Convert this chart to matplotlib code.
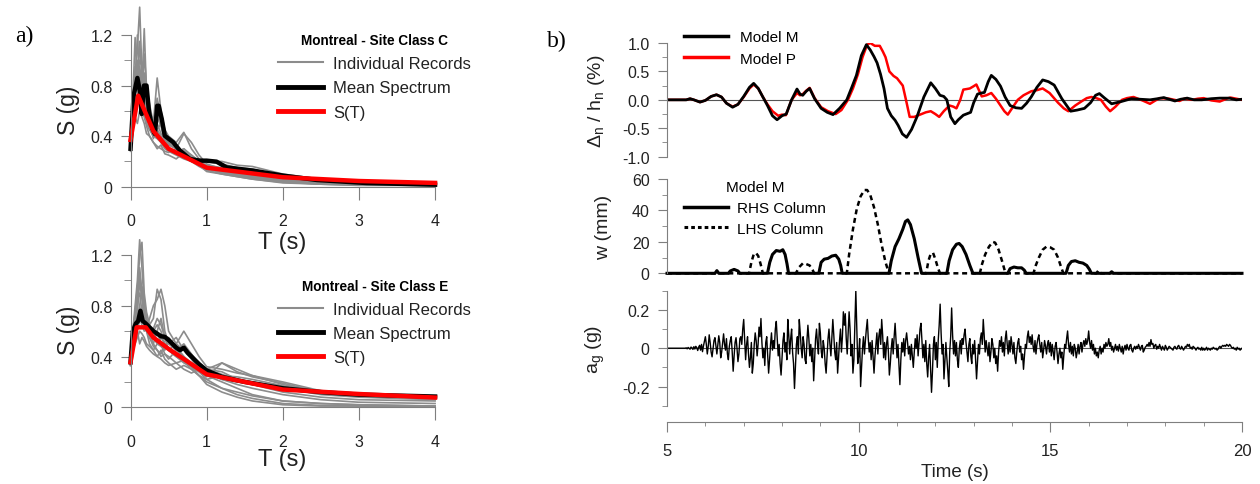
import numpy as np
import matplotlib
matplotlib.use('Agg')
import matplotlib.pyplot as plt
from matplotlib.lines import Line2D

plt.rcParams['font.family'] = 'Liberation Sans'
plt.rcParams['axes.unicode_minus'] = False

# ---- a) response spectra ----
T_grid = [0, 0.03, 0.06, 0.09, 0.12, 0.15, 0.18, 0.21, 0.25, 0.3, 0.35, 0.4, 0.45, 0.5,
          0.6, 0.7, 0.8, 0.9, 1.0, 1.2, 1.4, 1.6, 2.0, 2.5, 3.0, 4.0]

records_c = [
    [.32, .6, .9, 1.1, 1.42, .9, .8, .7, .55, .45, .5, .42, .38, .33, .3, .28, .25, .2, .16, .12, .1, .08, .05, .03, .02, .01],
    [.3, .7, 1.18, .85, .95, .8, 1.25, .75, .6, .5, .7, .55, .4, .35, .3, .25, .2, .18, .15, .11, .09, .07, .04, .02, .015, .01],
    [.28, .55, .8, 1.0, .75, .65, .6, .5, .45, .5, .86, .6, .45, .4, .35, .43, .3, .22, .2, .18, .15, .12, .07, .04, .03, .015],
    [.3, .5, .7, .65, .8, .6, .55, .48, .4, .35, .32, .3, .28, .27, .3, .42, .35, .25, .18, .14, .15, .14, .08, .05, .03, .02],
    [.33, .6, .85, .95, .7, .75, .65, .58, .5, .4, .45, .35, .3, .28, .25, .22, .2, .17, .12, .1, .08, .06, .035, .02, .015, .01],
    [.29, .45, .55, .5, .6, .55, .5, .42, .4, .35, .3, .33, .26, .25, .22, .27, .2, .16, .13, .1, .08, .06, .03, .02, .01, .01],
    [.31, .5, .65, .72, .9, .7, .75, .6, .5, .38, .6, .5, .4, .3, .28, .24, .2, .18, .2, .2, .17, .16, .1, .06, .04, .02],
    [.3, .65, .75, 1.2, .85, .7, 1.05, .8, .65, .5, .45, .4, .35, .3, .26, .3, .25, .2, .16, .13, .11, .09, .05, .03, .02, .01],
    [.31, .55, .95, .8, 1.15, .85, .7, .65, .5, .42, .55, .48, .35, .3, .27, .3, .24, .19, .15, .12, .1, .08, .045, .025, .015, .01],
    [.29, .5, .6, .7, .65, .85, .6, .55, .45, .4, .38, .35, .33, .3, .28, .26, .22, .2, .17, .15, .13, .11, .07, .04, .03, .02],
    [.3, .58, .72, .9, 1.0, .95, .85, .7, .55, .48, .42, .36, .32, .29, .26, .24, .22, .18, .14, .11, .09, .07, .04, .025, .02, .01],
    [.32, .62, .8, .75, .7, .65, .9, .7, .6, .5, .45, .5, .38, .34, .3, .28, .23, .2, .16, .13, .12, .1, .06, .035, .025, .015],
]
T_mean_c = [0, 0.04, 0.09, 0.125, 0.147, 0.177, 0.21, 0.243, 0.29, 0.32, 0.35, 0.37, 0.41, 0.45,
            0.56, 0.65, 0.78, 0.91, 1.0, 1.13, 1.26, 1.61, 2.01, 2.45, 3.1, 4.0]
S_mean_c = [0.30, 0.72, 0.86, 0.75, 0.575, 0.80, 0.80, 0.59, 0.456, 0.417, 0.64, 0.64, 0.536, 0.403,
            0.351, 0.285, 0.219, 0.206, 0.206, 0.198, 0.153, 0.127, 0.087, 0.053, 0.029, 0.016]
T_st_c = [0, 0.1, 0.2, 0.3, 0.5, 1.0, 2.0, 3.0, 4.0]
S_st_c = [0.37, 0.72, 0.58, 0.44, 0.30, 0.15, 0.075, 0.045, 0.03]

records_e = [
    [.35, .6, .8, 1.0, 1.32, 1.1, .8, .7, .6, .5, .45, .42, .5, .45, .4, .35, .32, .28, .22, .15, .1, .07, .03, .015, .01, .005],
    [.33, .55, .7, .9, 1.2, 1.3, .9, .75, .65, .7, .93, .85, .6, .5, .45, .4, .35, .3, .25, .2, .15, .1, .05, .03, .02, .01],
    [.36, .5, .6, .65, .7, .65, .6, .62, .7, .8, .85, .93, .8, .6, .5, .45, .38, .3, .3, .35, .28, .24, .19, .12, .09, .07],
    [.34, .45, .5, .55, .6, .58, .55, .5, .48, .45, .5, .55, .5, .45, .5, .6, .5, .4, .32, .3, .27, .25, .2, .13, .1, .08],
    [.35, .5, .55, .6, .5, .55, .52, .48, .45, .42, .4, .38, .35, .33, .35, .37, .33, .28, .24, .35, .3, .25, .18, .12, .1, .08],
    [.33, .6, .7, .85, .9, .75, .65, .6, .62, .55, .5, .48, .45, .55, .48, .4, .32, .25, .18, .12, .08, .05, .02, .01, .01, .005],
    [.37, .55, .65, .7, .8, .95, .85, .7, .6, .55, .6, .5, .42, .4, .35, .3, .27, .3, .28, .22, .2, .19, .15, .1, .08, .06],
    [.34, .5, .6, .75, 1.0, .85, .7, .6, .5, .45, .4, .45, .38, .35, .3, .33, .3, .25, .22, .25, .24, .22, .17, .11, .09, .07],
    [.34, .55, .7, .8, 1.05, .9, .75, .65, .55, .5, .6, .7, .55, .45, .4, .38, .34, .3, .27, .22, .18, .15, .1, .06, .04, .03],
    [.36, .5, .58, .62, .68, .72, .65, .6, .58, .62, .7, .65, .55, .5, .55, .45, .4, .35, .3, .28, .22, .18, .12, .08, .06, .05],
    [.35, .6, .75, .95, 1.1, .9, .8, .65, .55, .48, .45, .4, .42, .38, .45, .5, .42, .34, .3, .26, .22, .2, .16, .11, .09, .07],
    [.33, .52, .62, .7, .75, .8, .7, .6, .55, .6, .65, .6, .5, .45, .4, .36, .3, .25, .2, .15, .12, .09, .05, .03, .02, .01],
]
T_mean_e = [0, .03, .07, .1, .13, .16, .2, .25, .3, .35, .4, .45, .5, .55, .6, .65, .7, .75, .8, .9,
            1.0, 1.2, 1.5, 2.0, 2.5, 3.0, 4.0]
S_mean_e = [.355, .6, .66, .68, .76, .68, .66, .63, .6, .58, .56, .555, .53, .5, .47, .45, .47, .43, .4, .34,
            .29, .24, .2, .15, .12, .1, .085]
T_st_e = [0, 0.08, 0.2, 0.3, 0.5, 1.0, 2.0, 3.0, 4.0]
S_st_e = [0.355, 0.63, 0.63, 0.55, 0.46, 0.26, 0.14, 0.105, 0.077]

# ---- b) time histories ----
t_m = [5.0, 5.5, 5.6, 5.7, 5.86, 6.0, 6.15, 6.29, 6.42, 6.55, 6.71, 6.85, 7.0, 7.15, 7.26, 7.38, 7.5,
       7.62, 7.75, 7.87, 8.0, 8.11, 8.25, 8.39, 8.47, 8.54, 8.63, 8.72, 8.85, 9.02, 9.18, 9.33, 9.5,
       9.69, 9.82, 9.94, 10.07, 10.2, 10.3, 10.4, 10.48, 10.57, 10.66, 10.75, 10.85, 10.95, 11.03,
       11.14, 11.25, 11.38, 11.52, 11.7, 11.88, 12.0, 12.12, 12.22, 12.3, 12.4, 12.51, 12.6, 12.73,
       12.92, 13.0, 13.1, 13.2, 13.28, 13.38, 13.46, 13.58, 13.7, 13.82, 13.95, 14.1, 14.25, 14.38,
       14.5, 14.65, 14.8, 14.95, 15.1, 15.3, 15.53, 15.7, 15.89, 16.05, 16.18, 16.28, 16.4, 16.6,
       16.85, 17.11, 17.35, 17.6, 17.8, 17.96, 18.1, 18.25, 18.4, 18.57, 18.75, 18.95, 19.2, 19.42,
       19.67, 19.85, 20.0]
drift_m = [0, 0, 0.02, 0.0, -0.04, -0.01, 0.06, 0.09, 0.05, -0.06, -0.13, -0.08, 0.06, 0.22, 0.29, 0.2, 0.05,
           -0.1, -0.28, -0.35, -0.28, -0.25, 0.0, 0.19, 0.1, 0.08, 0.15, 0.2, 0.02, -0.15, -0.22, -0.26, -0.15,
           0.0, 0.22, 0.43, 0.78, 0.97, 0.88, 0.76, 0.65, 0.45, 0.2, -0.15, -0.28, -0.36, -0.45,
           -0.6, -0.66, -0.52, -0.3, 0.05, 0.3, 0.2, 0.08, 0.06, 0.0, -0.3, -0.42, -0.35, -0.27,
           -0.22, -0.05, 0.1, 0.12, 0.13, 0.32, 0.43, 0.36, 0.24, 0.05, -0.1, -0.14, -0.15, -0.06,
           0.05, 0.22, 0.35, 0.32, 0.26, 0.02, -0.2, -0.18, -0.15, -0.05, 0.08, 0.11, 0.04, -0.07,
           -0.03, 0.02, 0.01, 0.0, 0.02, 0.04, 0.01, -0.02, 0.01, 0.03, 0.0, 0.0, 0.02, 0.03,
           0.03, 0.0, 0.01]
t_p = [5.0, 5.5, 5.6, 5.7, 5.86, 6.0, 6.15, 6.29, 6.42, 6.55, 6.71, 6.85, 7.0, 7.15, 7.26, 7.38, 7.5,
       7.62, 7.75, 7.9, 8.0, 8.1, 8.25, 8.39, 8.47, 8.54, 8.63, 8.72, 8.85, 9.02, 9.2, 9.4, 9.55,
       9.72, 9.85, 9.98, 10.1, 10.22, 10.3, 10.42, 10.55, 10.63, 10.7, 10.8, 10.91, 11.0, 11.15,
       11.25, 11.33, 11.45, 11.64, 11.75, 11.88, 12.0, 12.1, 12.22, 12.37, 12.47, 12.55, 12.65, 12.73,
       12.82, 12.9, 13.0, 13.07, 13.15, 13.21, 13.33, 13.46, 13.58, 13.7, 13.8, 13.89, 14.0, 14.15,
       14.3, 14.5, 14.65, 14.8, 14.98, 15.2, 15.35, 15.47, 15.65, 15.83, 15.95, 16.07, 16.2, 16.32,
       16.45, 16.56, 16.7, 16.87, 17.0, 17.17, 17.4, 17.6, 17.72, 17.85, 18.1, 18.37, 18.5, 18.7,
       18.85, 19.0, 19.2, 19.42, 19.6, 19.7, 19.85, 20.0]
drift_p = [0, 0, 0.02, 0.0, -0.04, -0.01, 0.06, 0.09, 0.05, -0.06, -0.12, -0.08, 0.05, 0.2, 0.27, 0.2, 0.05,
           -0.08, -0.2, -0.28, -0.26, -0.27, 0.0, 0.12, 0.08, 0.1, 0.16, 0.21, 0.03, -0.13, -0.2, -0.25, -0.18,
           0.0, 0.2, 0.45, 0.75, 0.97, 1.0, 0.95, 0.95, 0.85, 0.75, 0.5, 0.42, 0.38, 0.25,
           -0.05, -0.3, -0.3, -0.25, -0.22, -0.2, -0.25, -0.3, -0.2, -0.1, -0.12, -0.15, 0.0, 0.18,
           0.19, 0.2, 0.24, 0.27, 0.15, 0.06, 0.08, 0.12, 0.02, -0.1, -0.2, -0.26, -0.15, 0.0,
           0.08, 0.15, 0.17, 0.2, 0.12, -0.05, -0.15, -0.2, -0.1, -0.02, 0.03, 0.05, 0.03, 0.0,
           -0.12, -0.2, -0.12, 0.0, 0.03, 0.05, -0.01, -0.07, -0.02, 0.03, 0.02, -0.02, 0.02, 0.0,
           0.02, 0.03, -0.01, -0.03, 0.02, 0.04, 0.02, 0.0]

t_rhs = [5, 6.25, 6.3, 6.35, 6.6, 6.65, 6.75, 6.85, 6.9,
         7.62, 7.68, 7.75, 7.85, 7.95, 8.02, 8.08, 8.13, 8.17,
         8.96, 9.02, 9.1, 9.2, 9.3, 9.4, 9.48, 9.53, 9.57,
         10.79, 10.85, 10.95, 11.05, 11.15, 11.22, 11.28, 11.35, 11.45, 11.55, 11.64,
         12.3, 12.36, 12.45, 12.55, 12.62, 12.7, 12.8, 12.9, 12.98,
         13.89, 13.95, 14.05, 14.15, 14.25, 14.32, 14.37,
         15.41, 15.47, 15.55, 15.65, 15.75, 15.85, 15.95, 16.02, 16.07,
         16.55, 16.6, 16.65, 20]
w_rhs = [0, 0, 1.7, 0, 0, 1.5, 2.5, 1.5, 0,
         0, 7, 12, 14.5, 14, 15, 12, 6, 0,
         0, 7, 9, 9.5, 11, 11.5, 9, 5, 0,
         0, 8, 17, 22, 28, 33, 34, 31, 22, 10, 0,
         0, 8, 15, 18.5, 19, 17, 12, 5, 0,
         0, 3, 4, 3.5, 3.5, 2, 0,
         0, 5, 7.5, 8, 7, 6.5, 5, 2.5, 0,
         0, 1, 0, 0]
t_lhs = [5, 7.14, 7.2, 7.26, 7.32, 7.38, 7.44, 7.5,
         8.36, 8.45, 8.55, 8.62, 8.72, 8.8, 8.84,
         9.69, 9.75, 9.85, 9.95, 10.05, 10.15, 10.22, 10.3, 10.4, 10.5, 10.6, 10.7, 10.79,
         11.76, 11.82, 11.88, 11.94, 12.0, 12.06, 12.12,
         13.16, 13.22, 13.3, 13.4, 13.5, 13.56, 13.65, 13.75, 13.83,
         14.56, 14.62, 14.7, 14.8, 14.9, 15.0, 15.1, 15.2, 15.28, 15.34,
         16.2, 16.26, 16.32, 20]
w_lhs = [0, 0, 7, 12, 13, 11, 6, 0,
         0, 4, 6.5, 6, 5, 2, 0,
         0, 12, 28, 41, 49, 53, 53, 50, 42, 31, 18, 7, 0,
         0, 8, 12.5, 13, 9, 4, 0,
         0, 6, 12, 17, 20, 19.5, 15, 7, 0,
         0, 5, 10, 15, 17, 16.5, 15, 10, 4, 0,
         0, 2, 0, 0]

# ground acceleration, one row per half second, 0.025 s apart
ag_start, ag_dt = 5.0, 0.025
ag = [
    0, 0, 0, 0, 0, 0, 0, 0, 0, 0, 0, 0, 0, 0, 0, 0, 0, 0, 0, 0,
    0.002, -0.003, 0.004, 0.0, -0.005, 0.006, 0.002, -0.006, 0.008, -0.004, 0.01, 0.003, -0.012, 0.006, 0.015, -0.01, 0.02, -0.018, 0.012, 0.035,
    0.06, 0.02, -0.03, 0.01, 0.07, 0.03, -0.02, -0.045, 0.0, 0.04, 0.055, 0.01, -0.03, 0.02, 0.065, 0.03, -0.05, -0.02, 0.03, 0.075,
    0.02, -0.01, 0.05, -0.03, -0.06, 0.01, 0.04, 0.06, -0.02, -0.12, -0.04, 0.03, 0.055, 0.0, -0.07, -0.03, 0.05, 0.06, 0.02, 0.1,
    0.15, 0.04, -0.06, 0.02, 0.06, -0.03, -0.1, -0.05, 0.03, -0.13, -0.08, 0.02, 0.08, 0.04, -0.04, 0.02, 0.11, 0.06, 0.155, 0.03,
    -0.05, 0.0, -0.09, 0.03, 0.06, -0.04, -0.13, -0.06, 0.02, 0.08, -0.01, 0.04, 0.0, 0.1, 0.14, 0.05, -0.04, 0.02, -0.08, -0.14,
    -0.05, 0.04, 0.08, -0.02, 0.03, -0.06, 0.15, 0.07, -0.03, 0.05, 0.1, -0.02, -0.08, -0.21, -0.1, 0.02, 0.06, -0.03, 0.15, 0.08,
    0.0, -0.05, 0.06, 0.02, -0.06, -0.08, 0.04, 0.12, 0.05, -0.04, 0.02, -0.07, 0.0, -0.17, -0.06, 0.05, 0.1, 0.02, -0.03, 0.13,
    0.08, -0.02, -0.05, 0.04, 0.0, -0.08, -0.13, -0.04, 0.05, 0.1, 0.02, -0.04, 0.06, 0.15, 0.07, -0.02, -0.06, 0.03, -0.13, -0.05,
    0.04, 0.1, -0.02, 0.06, 0.19, 0.12, 0.18, 0.05, -0.03, 0.08, 0.19, 0.1, -0.04, 0.02, -0.13, -0.06, 0.12, 0.3, 0.1, -0.08,
    -0.04, 0.05, -0.2, -0.1, 0.0, 0.06, -0.03, 0.04, 0.1, 0.15, 0.05, -0.02, 0.03, -0.06, 0.04, -0.05, -0.13, -0.04, 0.02, 0.08,
    -0.03, 0.06, 0.1, 0.02, 0.15, 0.07, -0.05, 0.03, -0.06, 0.02, 0.06, -0.02, -0.14, -0.08, 0.0, 0.05, -0.03, 0.06, 0.13, 0.04,
    -0.05, 0.02, -0.08, -0.19, -0.06, 0.03, -0.02, 0.05, -0.04, 0.04, 0.08, 0.03, -0.03, 0.01, -0.06, 0.02, -0.04, -0.1, -0.02, 0.05,
    0.0, 0.07, -0.04, 0.03, 0.1, 0.13, 0.04, -0.05, 0.02, -0.07, 0.04, -0.08, -0.15, -0.05, 0.02, -0.1, -0.23, -0.12, 0.02, 0.06,
    -0.06, 0.03, -0.1, 0.04, 0.12, 0.23, 0.08, -0.03, 0.02, -0.16, -0.06, 0.03, -0.05, -0.12, -0.2, -0.02, 0.06, 0.21, 0.07, -0.03,
    0.04, -0.04, 0.03, -0.06, -0.1, 0.0, 0.04, -0.03, 0.05, 0.02, 0.07, 0.1, 0.03, -0.02, -0.07, 0.02, 0.05, -0.04, -0.08, 0.02,
    -0.03, 0.04, -0.06, -0.16, -0.07, 0.02, -0.03, 0.05, 0.08, 0.02, 0.15, 0.06, -0.02, 0.04, 0.0, -0.04, 0.03, -0.07, -0.02, 0.05,
    0.02, -0.05, 0.0, -0.08, -0.04, -0.12, -0.02, 0.04, 0.01, 0.06, -0.02, 0.03, -0.04, 0.05, 0.09, 0.02, -0.03, 0.04, -0.02, 0.06,
    0.02, -0.03, 0.03, -0.05, -0.08, -0.02, 0.03, 0.05, -0.02, 0.01, -0.06, -0.03, -0.11, -0.04, 0.02, 0.0, 0.06, 0.09, 0.03, 0.06,
    0.02, 0.07, 0.01, -0.02, 0.04, -0.03, 0.02, 0.05, 0.07, 0.02, -0.02, 0.03, -0.05, -0.01, 0.04, 0.01, -0.03, 0.02, 0.04, -0.02,
    0.03, -0.04, 0.02, -0.02, -0.06, 0.01, 0.03, -0.02, -0.08, -0.03, 0.0, -0.05, -0.02, -0.11, -0.04, 0.02, 0.0, 0.05, 0.09, 0.02,
    -0.02, 0.03, -0.03, 0.01, -0.04, 0.02, 0.0, -0.05, -0.02, 0.02, -0.03, 0.01, 0.03, -0.02, 0.02, 0.04, 0.01, 0.05, 0.02, 0.04,
    0.09, 0.03, 0.0, 0.04, -0.01, 0.02, -0.03, 0.0, -0.04, -0.02, -0.05, -0.01, 0.01, -0.03, 0.0, -0.02, 0.02, 0.0, 0.03, 0.01,
    0.02, 0.05, 0.01, 0.03, -0.01, 0.01, -0.02, 0.0, 0.02, -0.01, 0.01, -0.015, 0.02, 0.0, -0.02, 0.01, -0.03, 0.0, 0.015, -0.01,
    0.02, 0.0, -0.01, 0.015, 0.02, -0.01, -0.02, 0.0, 0.01, -0.005, 0.01, 0.0, 0.02, 0.005, -0.01, 0.01, 0.015, -0.02, -0.01, 0.005,
    0.01, 0.02, 0.01, 0.03, 0.01, 0.045, 0.02, 0.025, 0.0, 0.015, 0.02, -0.005, 0.01, 0.0, 0.02, 0.005, -0.01, 0.01, 0.0, -0.01,
    0.015, 0.005, -0.01, 0.0, 0.01, 0.005, 0.0, -0.005, -0.01, 0.005, 0.01, 0.0, -0.005, 0.01, 0.015, 0.0, -0.005, 0.01, 0.0, -0.01,
    0.0, 0.01, 0.005, 0.02, 0.01, 0.02, 0.0, 0.005, -0.005, 0.01, 0.005, 0.0, -0.01, 0.0, 0.005, -0.005, 0.0, -0.01, 0.005, -0.01,
    0.0, -0.01, -0.005, 0.005, -0.01, 0.0, -0.005, -0.01, 0.0, -0.005, 0.005, 0.0, -0.005, 0.0, -0.01, -0.005, 0.005, 0.01, 0.0, 0.01,
    0.015, 0.01, 0.015, 0.01, 0.02, 0.015, 0.01, 0.02, 0.015, 0.005, 0.0, 0.005, -0.005, 0.0, -0.01, 0.005, -0.005, 0.0, -0.01, -0.005,
    0.0]
t_ag = ag_start + ag_dt * np.arange(len(ag))

GRAY = '#8c8c8c'
SPINE = '#7f7f7f'

fig = plt.figure(figsize=(12.6, 4.85), dpi=100)


def spectrum_panel(ax, records, T_mean, S_mean, T_st, S_st, title, leg_y):
    for rec in records:
        ax.plot(T_grid, rec, color=GRAY, lw=1.2, clip_on=False)
    ax.plot(T_mean, S_mean, color='black', lw=3.2, clip_on=False)
    ax.plot(T_st, S_st, color='red', lw=3.2, clip_on=False)
    ax.set_xlim(0, 4)
    ax.set_ylim(0, 1.2)
    ax.set_xticks([0, 1, 2, 3, 4])
    ax.set_yticks([0, 0.4, 0.8, 1.2])
    ax.set_yticklabels(['0', '0.4', '0.8', '1.2'])
    ax.set_yticks([0.2, 0.6, 1.0], minor=True)
    for s in ['top', 'right']:
        ax.spines[s].set_visible(False)
    for s in ['left', 'bottom']:
        ax.spines[s].set_color(SPINE)
    ax.tick_params(axis='y', which='major', direction='out', length=7, pad=6,
                   color=SPINE, labelsize=11.5, labelcolor='#222222')
    ax.tick_params(axis='y', which='minor', direction='out', length=5, color=SPINE)
    ax.tick_params(axis='x', which='major', direction='out', length=9, pad=10,
                   color=SPINE, labelsize=11.5, labelcolor='#222222')
    ax.set_ylabel('S (g)', fontsize=16.5, color='#222222')
    ax.set_xlabel('T (s)', fontsize=17, color='#222222')
    ax.yaxis.set_label_coords(-0.166, 0.51)
    handles = [Line2D([], [], color=GRAY, lw=1.5),
               Line2D([], [], color='black', lw=3.5),
               Line2D([], [], color='red', lw=3.5)]
    leg = ax.legend(handles, ['Individual Records', 'Mean Spectrum', 'S(T)'],
                    title=title, loc='upper left', bbox_to_anchor=(0.485, leg_y),
                    frameon=False, fontsize=12, handlelength=2.7, handletextpad=0.6,
                    labelspacing=0.55, borderpad=0, borderaxespad=0,
                    title_fontproperties={'weight': 'bold', 'size': 9.8})
    for txt in leg.get_texts():
        txt.set_color('#222222')


ax1 = fig.add_axes([0.1036, 0.6130, 0.2417, 0.3128])
spectrum_panel(ax1, records_c, T_mean_c, S_mean_c, T_st_c, S_st_c,
               'Montreal - Site Class C', 1.012)
ax1.xaxis.set_label_coords(0.497, -0.29)

ax2 = fig.add_axes([0.1036, 0.1581, 0.2417, 0.3141])
spectrum_panel(ax2, records_e, T_mean_e, S_mean_e, T_st_e, S_st_e,
               'Montreal - Site Class E', 0.845)
ax2.xaxis.set_label_coords(0.497, -0.265)


def right_style(ax):
    ax.set_xlim(5, 20)
    for s in ['top', 'right', 'bottom']:
        ax.spines[s].set_visible(False)
    ax.spines['left'].set_color(SPINE)
    ax.tick_params(axis='x', which='both', bottom=False, labelbottom=False)
    ax.tick_params(axis='y', which='major', direction='out', length=6.5, pad=6,
                   color=SPINE, labelsize=11.5, labelcolor='#222222')
    ax.tick_params(axis='y', which='minor', direction='out', length=3.5, color=SPINE)


ax3 = fig.add_axes([0.5294, 0.6749, 0.4563, 0.2344])
right_style(ax3)
ax3.axhline(0, color='#555555', lw=0.8)
ax3.plot(t_p, drift_p, color='red', lw=1.8)
ax3.plot(t_m, drift_m, color='black', lw=2.0)
ax3.set_ylim(-1, 1)
ax3.set_yticks([-1, -0.5, 0, 0.5, 1])
ax3.set_yticklabels(['-1.0', '-0.5', '0.0', '0.5', '1.0'])
ax3.set_yticks([-0.75, -0.25, 0.25, 0.75], minor=True)
ax3.set_ylabel('Δ$_\\mathregular{n}$ / h$_\\mathregular{n}$ (%)', fontsize=14, color='#222222')
ax3.yaxis.set_label_coords(-0.104, 0.5)
ax3.legend([Line2D([], [], color='black', lw=2.5), Line2D([], [], color='red', lw=2.5)],
           ['Model M', 'Model P'], loc='upper left', bbox_to_anchor=(0.029, 1.115),
           frameon=False, fontsize=11, handlelength=2.9, handletextpad=0.8,
           labelspacing=0.5, borderpad=0, borderaxespad=0)

ax4 = fig.add_axes([0.5294, 0.4344, 0.4563, 0.1944])
right_style(ax4)
ax4.plot(t_lhs, w_lhs, color='black', lw=1.8, linestyle=(0, (2, 1.5)), clip_on=False)
ax4.plot(t_rhs, w_rhs, color='black', lw=2.2, clip_on=False)
ax4.set_ylim(0, 60)
ax4.set_yticks([0, 20, 40, 60])
ax4.set_yticks([10, 30, 50], minor=True)
ax4.set_ylabel('w (mm)', fontsize=14, color='#222222')
ax4.yaxis.set_label_coords(-0.0957, 0.5)
ax4.legend([Line2D([], [], color='black', lw=2.5),
            Line2D([], [], color='black', lw=2.2, linestyle=(0, (1.2, 1.0)))],
           ['RHS Column', 'LHS Column'], title='Model M', loc='upper left',
           bbox_to_anchor=(0.029, 0.99), frameon=False, fontsize=11, title_fontsize=11,
           handlelength=2.9, handletextpad=0.6, labelspacing=0.45, borderpad=0, borderaxespad=0)

ax5 = fig.add_axes([0.5294, 0.1614, 0.4563, 0.2371])
right_style(ax5)
ax5.axhline(0, color='#555555', lw=0.8)
ax5.plot(t_ag, ag, color='black', lw=1.0)
ax5.set_ylim(-0.3, 0.3)
ax5.set_yticks([-0.2, 0, 0.2])
ax5.set_yticklabels(['-0.2', '0', '0.2'])
ax5.set_yticks([-0.3, -0.1, 0.1, 0.3], minor=True)
ax5.set_ylabel('a$_\\mathregular{g}$ (g)', fontsize=14, color='#222222')
ax5.yaxis.set_label_coords(-0.104, 0.5)
ax5.spines['bottom'].set_visible(True)
ax5.spines['bottom'].set_color(SPINE)
ax5.spines['bottom'].set_position(('outward', 11.5))
ax5.set_xticks([5, 10, 15, 20])
ax5.set_xticks(np.arange(6, 20), minor=True)
ax5.tick_params(axis='x', which='major', bottom=True, labelbottom=True, direction='out',
                length=7, pad=8, color=SPINE, labelsize=12, labelcolor='#222222')
ax5.tick_params(axis='x', which='minor', bottom=True, direction='out', length=3, color=SPINE)
ax5.set_xlabel('Time (s)', fontsize=13.5, color='#222222')
ax5.xaxis.set_label_coords(0.5, -0.5)

fig.text(0.012, 0.924, 'a)', fontsize=17, family='Liberation Serif', va='center')
fig.text(0.434, 0.914, 'b)', fontsize=17, family='Liberation Serif', va='center')

fig.savefig('out.png', dpi=100)
